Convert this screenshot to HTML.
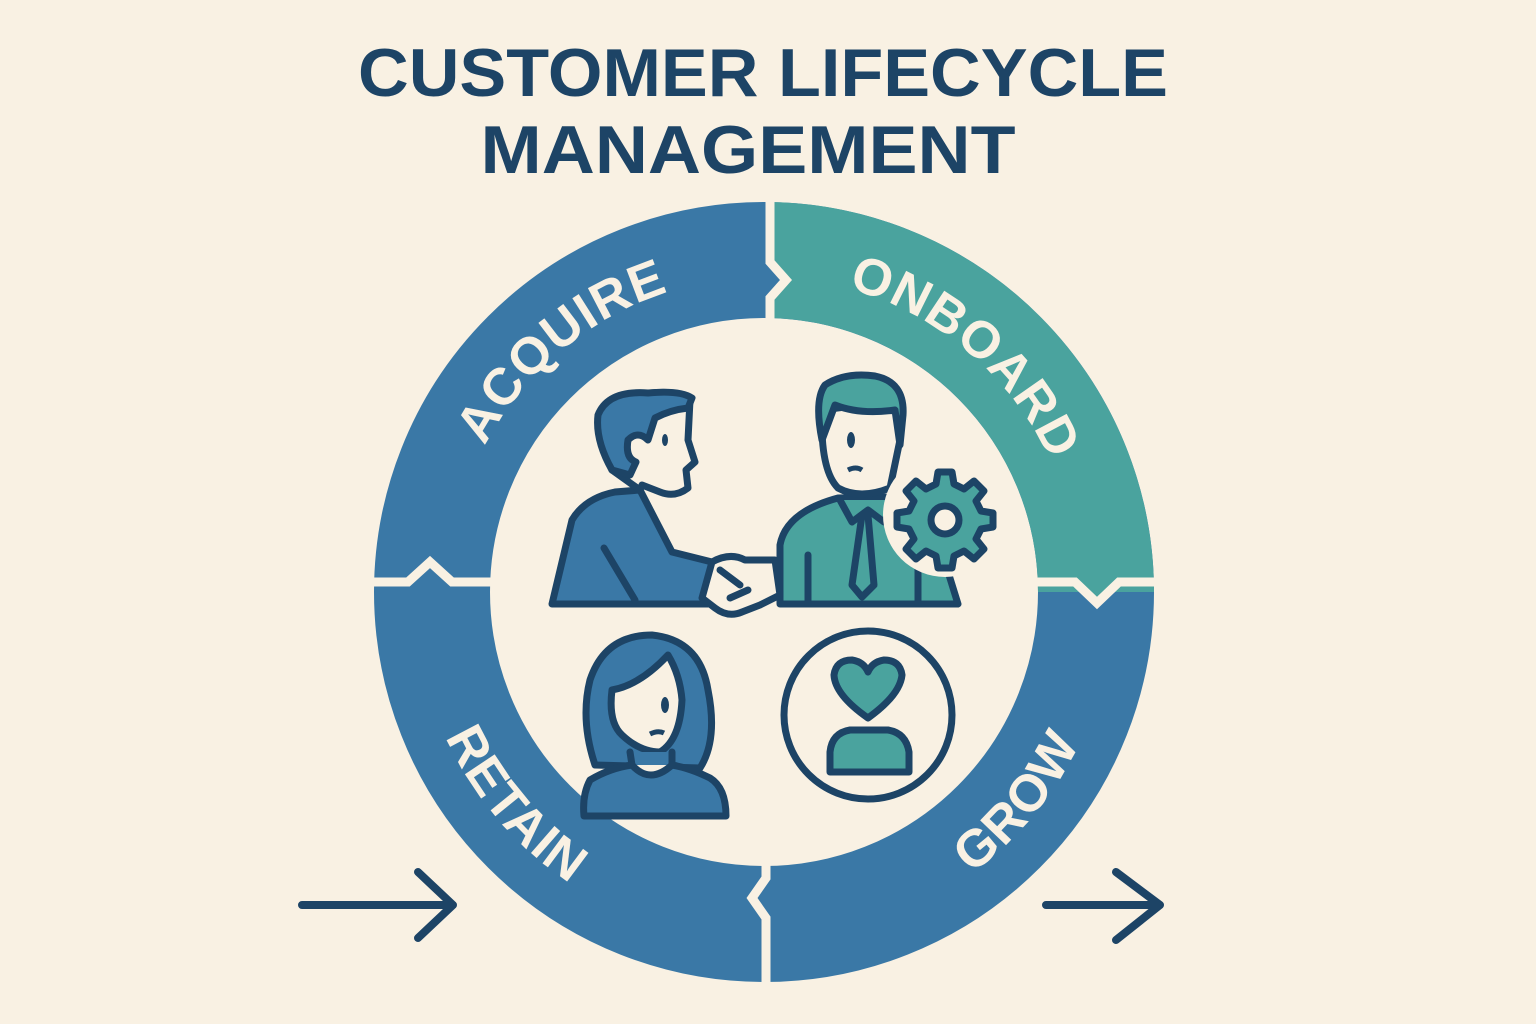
<!DOCTYPE html>
<html><head><meta charset="utf-8"><style>
html,body{margin:0;padding:0;background:#f9f1e3;}
svg{display:block;}
</style></head><body>
<svg width="1536" height="1024" viewBox="0 0 1536 1024" xmlns="http://www.w3.org/2000/svg">
<rect width="1536" height="1024" fill="#f9f1e3"/>
<g font-family="Liberation Sans, sans-serif" font-weight="bold" fill="#1d4466" text-anchor="middle">
<text x="763" y="96" font-size="68" textLength="810" lengthAdjust="spacingAndGlyphs">CUSTOMER LIFECYCLE</text>
<text x="748" y="173" font-size="68" textLength="535" lengthAdjust="spacingAndGlyphs">MANAGEMENT</text>
</g>
<circle cx="764" cy="592" r="332" fill="none" stroke="#3a78a6" stroke-width="116"/>
<path d="M770,202 A390,390 0 0 1 1154,592 L1038,592 A274,274 0 0 0 770,318 Z" fill="#4aa39e"/>
<path d="M768,260 L788,280 L768,300 Z" fill="#3a78a6"/>
<path d="M1073,584 L1097,606 L1121,584 Z" fill="#4aa39e"/>
<g fill="none" stroke="#f9f1e3" stroke-width="9" stroke-linejoin="miter">
<path d="M770,190 L770,262 L786,280 L770,298 L770,330"/>
<path d="M355,582 L408,582 L430,562 L452,582 L495,582"/>
<path d="M1035,582 L1075,582 L1097,603 L1119,582 L1170,582"/>
<path d="M766,852 L766,878 L752,898 L766,918 L766,990"/>
</g>
<defs>
<path id="up" d="M449,592 A315,315 0 0 1 1079,592"/>
<path id="dn" d="M414,592 A350,350 0 0 0 1114,592"/>
</defs>
<g font-family="Liberation Sans, sans-serif" font-weight="bold" font-size="52" fill="#f9f1e3" text-anchor="middle" letter-spacing="1">
<text><textPath href="#up" startOffset="27.8%">ACQUIRE</textPath></text>
<text><textPath href="#up" startOffset="72.5%">ONBOARD</textPath></text>
<text><textPath href="#dn" startOffset="22.5%">RETAIN</textPath></text>
<text><textPath href="#dn" startOffset="78%">GROW</textPath></text>
</g>
<g fill="none" stroke="#1d4466" stroke-width="8" stroke-linecap="round" stroke-linejoin="round">
<path d="M302,905 L453,905 M418,872 L453,905 L418,938"/>
<path d="M1046,905 L1160,905 M1116,872 L1160,905 L1116,940"/>
</g>
<g stroke="#1d4466" stroke-width="7" stroke-linejoin="round" stroke-linecap="round">
<path d="M552,604 L572,520 Q585,498 615,492 L640,490 L672,552 L712,562 L708,604 Z" fill="#3a78a6"/>
<path d="M604,548 L635,600" fill="none"/>
<path d="M612,470 Q598,440 600,415 Q610,392 650,393 Q680,390 690,400 L688,440 L695,462 L686,470 L688,488 Q675,498 660,492 L642,485 L640,490 Z" fill="#f9f1e3"/>
<path d="M612,470 Q595,440 598,415 Q608,390 648,393 Q680,390 692,398 L688,408 Q670,410 655,418 L648,440 Q638,430 628,440 Q625,458 636,462 L630,475 Z" fill="#3a78a6"/>
<path d="M780,604 L780,545 Q786,512 838,498 L892,497 Q918,507 932,520 L958,604 Z" fill="#4aa39e"/>
<path d="M808,555 L808,604 M918,560 L918,604" fill="none"/>
<path d="M840,500 L852,522 L868,510 L884,522 L896,500" fill="#4aa39e"/>
<path d="M862,515 L852,585 L862,597 L874,585 L868,515 Z" fill="#4aa39e"/>
<path d="M822,410 Q820,470 838,488 Q860,500 890,488 L900,440 L900,400 Z" fill="#f9f1e3"/>
<path d="M822,440 Q814,400 825,385 Q845,372 875,376 Q905,382 903,415 L900,445 L895,410 Q860,415 835,405 Z" fill="#4aa39e"/>
<circle cx="945" cy="515" r="62" fill="#f9f1e3" stroke="none"/>
<path d="M938,472 L952,472 L954,484 L964,489 L974,481 L984,491 L976,501 L981,511 L993,513 L993,527 L981,529 L976,539 L984,549 L974,559 L964,551 L954,556 L952,568 L938,568 L936,556 L926,551 L916,559 L906,549 L914,539 L909,529 L897,527 L897,513 L909,511 L914,501 L906,491 L916,481 L926,489 L936,484 Z" fill="#4aa39e"/>
<circle cx="945" cy="520" r="14" fill="#f9f1e3"/>
<path d="M712,562 Q730,552 745,560 L775,560 L780,595 L760,605 L742,612 Q728,618 715,608 L702,598 Z" fill="#f9f1e3"/>
<path d="M720,570 L740,585 M730,598 L748,590" fill="none"/>
<path d="M595,765 Q580,720 590,680 Q605,635 652,635 Q700,640 708,690 Q718,740 700,768 Z" fill="#3a78a6"/>
<path d="M612,690 Q640,685 668,655 Q680,675 682,700 Q680,740 660,752 Q640,752 622,735 Q608,722 612,690 Z" fill="#f9f1e3"/>
<path d="M630,752 L632,765 Q610,768 590,780 Q582,795 584,816 L726,816 Q726,788 710,778 Q690,768 672,765 L672,752" fill="#3a78a6"/>
<path d="M632,765 Q650,785 672,765" fill="#f9f1e3"/>
<circle cx="868" cy="715" r="84" fill="none"/>
<path d="M868,718 Q835,695 834,675 Q836,660 852,660 Q864,662 868,672 Q872,662 884,660 Q900,660 902,675 Q900,695 868,718 Z" fill="#4aa39e"/>
<path d="M830,772 L830,752 Q832,733 850,730 L888,730 Q906,733 909,752 L909,772 Z" fill="#4aa39e"/>
</g>
<g fill="#1d4466">
<ellipse cx="665" cy="440" rx="3" ry="6"/>
<ellipse cx="851" cy="440" rx="4" ry="8"/>
<ellipse cx="665" cy="705" rx="4" ry="8"/>
<path d="M848,470 Q856,466 862,470" stroke="#1d4466" stroke-width="5" fill="none"/>
<path d="M650,734 Q658,730 664,733" stroke="#1d4466" stroke-width="5" fill="none"/>
</g>
</svg>
</body></html>
